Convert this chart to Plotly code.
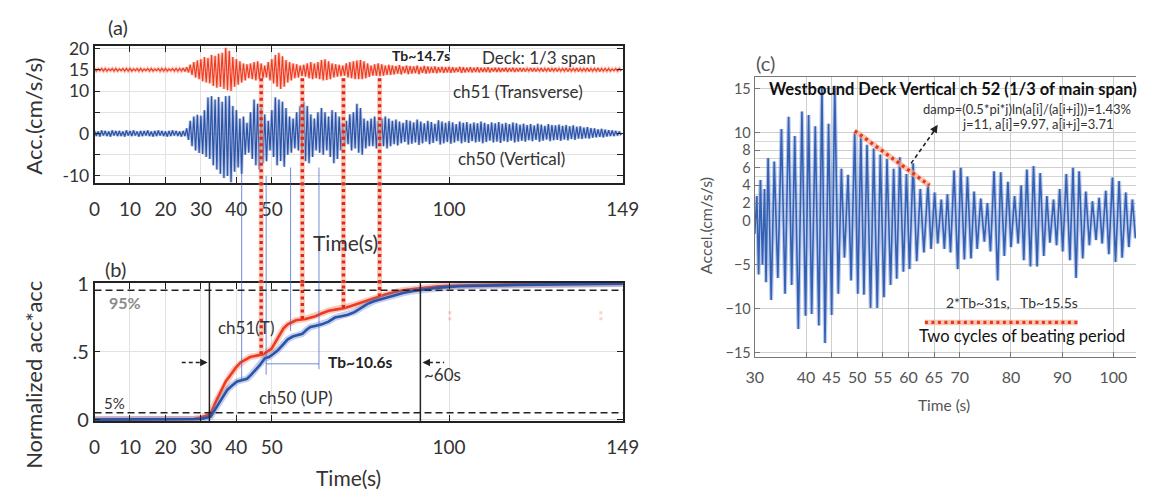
import numpy as np
import plotly.graph_objects as go

W, H = 1153, 501
FONT = "Lato"

# ---------------- (a) deck accelerations: per-second envelope extremes ----------------
# positive extremes at t = 0, 1, ..., 148 s ; negative extremes at t + 0.5 s
ch50_hi = [0.6, 0.5, 0.7, 0.6, 0.5, 0.7, 0.6, 0.6, 0.5, 0.7,
           0.6, 0.7, 0.5, 0.6, 0.6, 0.7, 0.5, 0.6, 0.7, 0.6,
           0.5, 0.6, 0.7, 0.6, 0.5, 0.6, 1.2, 3.0, 4.0, 4.4,
           4.2, 5.5, 8.5, 8.8, 8.0, 8.6, 7.5, 8.8, 8.9, 6.5,
           5.5, 3.5, 4.0, 2.5, 5.0, 8.0, 7.0, 6.0, 4.5, 3.0,
           5.5, 8.5, 8.0, 7.5, 6.0, 4.0, 3.5, 5.0, 6.5, 7.5,
           6.5, 4.5, 3.5, 5.0, 6.0, 5.0, 4.0, 5.5, 5.0, 4.0,
           2.5, 3.0, 4.5, 5.0, 7.0, 6.0, 3.5, 3.0, 3.5, 4.0,
           3.0, 3.5, 4.0, 3.5, 3.0, 3.3, 2.8, 2.5, 3.2, 3.0,
           2.6, 3.3, 2.8, 2.4, 3.0, 2.7, 2.3, 3.1, 2.8, 2.5,
           2.9, 2.6, 2.2, 2.8, 2.5, 2.7, 2.3, 2.6, 2.4, 2.8,
           2.5, 2.2, 2.6, 2.4, 2.7, 2.3, 2.5, 2.2, 2.6, 2.4,
           2.1, 2.3, 2.0, 2.2, 1.9, 2.3, 2.1, 1.8, 2.2, 2.0,
           1.9, 2.1, 1.8, 2.0, 1.7, 1.9, 1.6, 1.7, 1.4, 1.5,
           1.3, 1.2, 1.0, 1.1, 0.9, 0.8, 0.7, 0.6, 0.5]
ch50_lo = [-0.6, -0.7, -0.5, -0.6, -0.7, -0.5, -0.6, -0.6, -0.7, -0.5,
           -0.6, -0.5, -0.7, -0.6, -0.5, -0.6, -0.7, -0.6, -0.5, -0.6,
           -0.7, -0.6, -0.5, -0.6, -0.7, -0.6, -1.5, -3.0, -4.0, -4.6,
           -4.8, -5.5, -6.0, -7.5, -8.5, -9.5, -10.5, -10.0, -11.5, -9.0,
           -8.0, -9.5, -5.0, -4.5, -6.0, -7.5, -8.5, -7.0, -6.5, -4.0,
           -5.5, -7.5, -6.5, -7.8, -5.0, -4.5, -3.5, -4.0, -5.0, -6.5,
           -7.0, -5.5, -4.0, -4.5, -5.0, -4.0, -5.5, -7.0, -6.0, -4.0,
           -3.0, -2.5, -4.0, -3.5, -4.5, -5.0, -3.5, -3.0, -3.0, -3.5,
           -2.5, -3.0, -3.5, -3.0, -2.5, -2.8, -2.3, -2.0, -2.6, -2.4,
           -2.1, -2.7, -2.3, -1.9, -2.5, -2.2, -1.8, -2.6, -2.3, -2.0,
           -2.4, -2.1, -1.8, -2.3, -2.0, -2.2, -1.8, -2.1, -1.9, -2.3,
           -2.0, -1.7, -2.1, -1.9, -2.2, -1.8, -2.0, -1.7, -2.1, -1.9,
           -1.7, -1.9, -1.6, -1.8, -1.5, -1.9, -1.7, -1.4, -1.8, -1.6,
           -1.5, -1.7, -1.4, -1.6, -1.3, -1.5, -1.2, -1.3, -1.1, -1.2,
           -1.0, -0.9, -0.8, -0.9, -0.7, -0.6, -0.6, -0.5, -0.4]
# ch51 is plotted with a +15 offset
ch51_hi = [15.3, 15.2, 15.3, 15.3, 15.2, 15.3, 15.3, 15.2, 15.3, 15.3,
           15.3, 15.2, 15.3, 15.3, 15.2, 15.3, 15.3, 15.2, 15.3, 15.3,
           15.3, 15.2, 15.3, 15.3, 15.3, 15.4, 15.6, 16.2, 16.8, 17.2,
           17.5, 18.0, 17.8, 18.5, 18.3, 18.8, 19.0, 20.2, 19.5, 18.0,
           17.5, 17.0, 16.5, 16.3, 16.5, 16.8, 17.0, 16.5, 16.0, 16.8,
           17.5, 18.5, 19.0, 18.2, 17.3, 16.8, 16.5, 16.3, 16.0, 16.2,
           16.5, 16.8, 16.5, 16.8, 17.3, 17.5, 17.0, 16.5, 16.3, 16.2,
           16.0, 16.5, 16.8, 17.0, 17.2, 17.3, 17.0, 16.5, 16.0, 16.3,
           16.5, 16.3, 16.0, 16.2, 16.0, 15.9, 16.1, 15.8, 16.0, 15.9,
           15.8, 16.0, 15.7, 15.9, 15.8, 15.7, 15.8, 15.6, 15.7, 15.6,
           15.7, 15.6, 15.5, 15.7, 15.6, 15.5, 15.6, 15.5, 15.6, 15.5,
           15.5, 15.6, 15.4, 15.5, 15.5, 15.4, 15.5, 15.4, 15.5, 15.4,
           15.4, 15.4, 15.3, 15.4, 15.4, 15.3, 15.4, 15.3, 15.4, 15.3,
           15.4, 15.3, 15.3, 15.4, 15.3, 15.3, 15.4, 15.3, 15.3, 15.4,
           15.3, 15.3, 15.4, 15.3, 15.3, 15.3, 15.2, 15.3, 15.3]
ch51_lo = [14.7, 14.8, 14.7, 14.7, 14.8, 14.7, 14.7, 14.8, 14.7, 14.7,
           14.7, 14.8, 14.7, 14.7, 14.8, 14.7, 14.7, 14.8, 14.7, 14.7,
           14.7, 14.8, 14.7, 14.7, 14.7, 14.6, 14.4, 13.8, 13.2, 12.8,
           12.3, 12.0, 11.8, 11.2, 10.8, 11.0, 10.5, 10.2, 10.0, 11.0,
           11.5, 12.0, 12.5, 13.0, 12.8, 12.5, 12.8, 13.0, 13.2, 12.5,
           11.8, 11.0, 10.5, 11.0, 12.0, 12.5, 13.0, 13.2, 13.5, 13.4,
           13.0, 12.8, 13.0, 12.8, 12.5, 12.6, 12.8, 13.2, 13.4, 13.5,
           13.6, 13.2, 13.0, 12.8, 12.8, 12.8, 13.0, 13.3, 13.6, 13.6,
           13.5, 13.6, 13.8, 13.8, 13.9, 14.1, 13.9, 14.2, 14.0, 14.1,
           14.2, 14.0, 14.3, 14.1, 14.2, 14.3, 14.2, 14.4, 14.3, 14.4,
           14.3, 14.4, 14.5, 14.3, 14.4, 14.5, 14.4, 14.5, 14.4, 14.5,
           14.5, 14.4, 14.6, 14.5, 14.5, 14.6, 14.5, 14.6, 14.5, 14.6,
           14.6, 14.6, 14.7, 14.6, 14.6, 14.7, 14.6, 14.7, 14.6, 14.7,
           14.6, 14.7, 14.7, 14.6, 14.7, 14.7, 14.6, 14.7, 14.7, 14.6,
           14.7, 14.7, 14.6, 14.7, 14.7, 14.7, 14.8, 14.7, 14.7]

# ---------------- (b) normalized cumulative acc*acc ----------------
cum51_t = [0, 26, 28, 30, 32.7, 34, 35.6, 37, 38.4, 39.8, 41.2, 42.5, 43.9, 45.7, 47.6,
           49.9, 51, 52.2, 53.3, 54.5, 56.8, 59.5, 62.3, 64, 66, 68.3, 70.6, 73, 75.2,
           77.5, 79.8, 82, 84.4, 87, 89.9, 93, 97.2, 103, 110, 120, 135, 149]
cum51_v = [0, 0, 0.005, 0.015, 0.04, 0.12, 0.2, 0.28, 0.33, 0.38, 0.42, 0.44, 0.46, 0.47, 0.48,
           0.52, 0.57, 0.62, 0.67, 0.70, 0.73, 0.74, 0.76, 0.78, 0.80, 0.81, 0.82, 0.84, 0.86,
           0.88, 0.90, 0.92, 0.935, 0.95, 0.96, 0.97, 0.98, 0.985, 0.99, 0.995, 0.997, 1.0]
cum50_t = [0, 28, 30, 32.7, 34.7, 36, 37.5, 38.8, 40.2, 41.5, 43, 44.2, 45.3, 46.6, 48,
           49.2, 50.3, 51.7, 53.1, 54.5, 55.9, 57.2, 58.6, 59.8, 60.9, 62.5, 64.1, 66,
           67.8, 69.6, 71.5, 73.3, 75.2, 77, 78.8, 81.5, 84.4, 87, 89.9, 93, 97.2, 103,
           110, 120, 135, 149]
cum50_v = [0, 0, 0.005, 0.02, 0.10, 0.16, 0.22, 0.25, 0.28, 0.29, 0.30, 0.33, 0.36, 0.40, 0.45,
           0.46, 0.48, 0.51, 0.55, 0.59, 0.61, 0.62, 0.63, 0.66, 0.68, 0.69, 0.70, 0.72,
           0.75, 0.76, 0.77, 0.79, 0.82, 0.85, 0.87, 0.89, 0.915, 0.93, 0.945, 0.955, 0.97,
           0.98, 0.985, 0.99, 0.995, 0.998]
window_t = [32.4, 91.9]          # 5 % and 95 % energy crossings
beat_red_t = [47.0, 58.6, 70.2, 80.4]
beat_red_end = [0.48, 0.74, 0.82, 0.905]
beat_blue_t = [41.5, 48.4, 55.3, 63.3]
beat_blue_top = [-7.5, -10.0, -8.0, -8.0]
beat_blue_end = [0.29, 0.33, 0.65, 0.37]

# ---------------- (c) ch52 vertical, oscillation extremes ----------------
ch52_pk_t = [30.4, 31.1, 31.9, 32.6, 33.8, 35.2, 36.6, 37.8, 39.2, 40.5, 41.8, 43.1, 44.4,
             45.6, 46.9, 48.2, 49.5, 50.7, 51.9, 53.2, 54.5, 55.8, 57.1, 58.3, 59.6, 60.9,
             62.3, 63.8, 65.1, 66.4, 67.6, 68.9, 70.2, 71.5, 72.8, 74.1, 75.4, 76.7, 78.0,
             79.4, 80.7, 82.0, 83.1, 84.4, 85.7, 87.0, 88.3, 89.5, 90.8, 92.1, 93.3, 94.6,
             95.9, 97.2, 98.5, 99.8, 101.1, 102.4, 103.7]
ch52_pk_v = [2.8, 4.6, 3.6, 7.1, 6.7, 10.4, 11.8, 9.6, 12.4, 12.0, 10.7, 15.2, 11.0,
             15.3, 5.9, 5.2, 10.0, 9.5, 8.6, 8.2, 7.5, 7.0, 5.9, 7.2, 5.3, 6.5,
             3.6, 4.2, 3.2, 2.4, 3.0, 5.7, 6.0, 5.0, 3.3, 2.5, 2.0, 5.6, 5.5,
             4.4, 2.8, 4.0, 5.8, 6.2, 5.4, 2.8, 2.4, 3.6, 5.3, 6.0, 5.6, 3.3,
             2.2, 2.6, 3.4, 4.9, 4.5, 3.2, 2.4]
ch52_tr_t = [30.0, 30.75, 31.5, 32.2, 33.2, 34.5, 35.9, 37.2, 38.5, 39.9, 41.1, 42.5, 43.7,
             45.0, 46.3, 47.5, 48.8, 50.1, 51.3, 52.6, 53.9, 55.2, 56.5, 57.7, 59.0, 60.2,
             61.6, 63.0, 64.4, 65.7, 67.0, 68.2, 69.6, 70.9, 72.2, 73.4, 74.8, 76.0, 77.4,
             78.7, 80.0, 81.4, 82.5, 83.8, 85.1, 86.4, 87.6, 88.9, 90.1, 91.5, 92.7, 94.0,
             95.3, 96.6, 97.8, 99.1, 100.4, 101.7, 103.0, 104.3]
ch52_tr_v = [-1.5, -6.1, -5.0, -7.0, -9.0, -6.5, -8.3, -7.3, -12.3, -10.8, -10.6, -11.9, -13.9,
             -10.7, -8.3, -4.2, -6.8, -8.3, -8.4, -9.9, -9.9, -8.7, -7.3, -6.6, -5.8, -5.5,
             -4.6, -3.6, -3.2, -2.6, -3.2, -3.6, -5.5, -4.4, -4.3, -3.2, -2.4, -3.5, -6.8,
             -4.0, -3.0, -2.6, -4.5, -5.2, -5.2, -4.0, -2.5, -2.8, -3.5, -4.5, -6.5, -4.3,
             -2.8, -2.2, -2.6, -3.8, -4.7, -4.2, -3.0, -2.0]
decay_t = [49.5, 64.1]           # a[i] = 9.97 ... a[i+j] = 3.71
decay_v = [10.2, 4.0]
beat_span_t = [63.2, 93.0]
beat_span_v = -11.55

# ---------------- geometry (pixel boxes of the three panels) ----------------
def px_x(p):
    return p / W


def px_y(p):
    return 1 - p / H


A_BOX = (87.5, 628, 35, 178)
B_BOX = (87.5, 628, 282.5, 427)
C_BOX = (763, 1153, 67, 360)
A_YR = [-11.7, 20.5]
B_YR = [-0.012, 1.003]
C_YR = [-15.5, 16.3]
C_XR = [30, 104.4]

BLUE = "#2B54A8"
RED = "#EE3A1E"
INK = "#222222"


def zigzag(hi, lo):
    n = len(hi)
    t = np.empty(2 * n)
    v = np.empty(2 * n)
    t[0::2] = np.arange(n)
    t[1::2] = np.arange(n) + 0.5
    v[0::2] = hi
    v[1::2] = lo
    return t, v


fig = go.Figure()

t51, v51 = zigzag(ch51_hi, ch51_lo)
t50, v50 = zigzag(ch50_hi, ch50_lo)
fig.add_trace(go.Scatter(x=t51, y=v51, mode="lines", xaxis="x", yaxis="y",
                         line=dict(color="rgba(240,90,60,0.35)", width=3.2), hoverinfo="skip"))
fig.add_trace(go.Scatter(x=t51, y=v51, mode="lines", xaxis="x", yaxis="y",
                         line=dict(color=RED, width=1.1)))
fig.add_trace(go.Scatter(x=t50, y=v50, mode="lines", xaxis="x", yaxis="y",
                         line=dict(color="rgba(60,95,180,0.35)", width=3.0), hoverinfo="skip"))
fig.add_trace(go.Scatter(x=t50, y=v50, mode="lines", xaxis="x", yaxis="y",
                         line=dict(color=BLUE, width=1.2)))

# cumulative energy curves with a soft halo
for tt, vv, col, halo in [(cum51_t, cum51_v, RED, "rgba(240,110,80,0.35)"),
                          (cum50_t, cum50_v, BLUE, "rgba(90,120,200,0.35)")]:
    fig.add_trace(go.Scatter(x=tt, y=vv, mode="lines", xaxis="x2", yaxis="y2",
                             line=dict(color=halo, width=6.5), hoverinfo="skip"))
    fig.add_trace(go.Scatter(x=tt, y=vv, mode="lines", xaxis="x2", yaxis="y2",
                             line=dict(color=col, width=2.6)))

# ch52 waveform: merge peaks and troughs in time order
pts = sorted(zip(ch52_pk_t + ch52_tr_t, ch52_pk_v + ch52_tr_v))
fig.add_trace(go.Scatter(x=[p[0] for p in pts], y=[p[1] for p in pts], mode="lines",
                         xaxis="x3", yaxis="y3", line=dict(color="rgba(70,110,200,0.35)", width=4),
                         hoverinfo="skip"))
fig.add_trace(go.Scatter(x=[p[0] for p in pts], y=[p[1] for p in pts], mode="lines",
                         xaxis="x3", yaxis="y3", line=dict(color="#3461B3", width=1.6)))

shapes = []

# beating markers crossing from (a) into (b)
gap_lo, gap_hi = px_y(B_BOX[2]), px_y(A_BOX[3])


def crossing(t, top_a, end_b, line):
    return [
        dict(type="line", xref="x", yref="y", x0=t, x1=t, y0=top_a, y1=A_YR[0], line=line),
        dict(type="line", xref="x", yref="paper", x0=t, x1=t, y0=gap_lo, y1=gap_hi, line=line),
        dict(type="line", xref="x2", yref="y2", x0=t, x1=t, y0=end_b, y1=B_YR[1], line=line),
    ]


for t, top, end in zip(beat_blue_t, beat_blue_top, beat_blue_end):
    shapes += crossing(t, top, end, dict(color="rgba(70,100,200,0.75)", width=1))
shapes.append(dict(type="line", xref="x2", yref="y2", x0=beat_blue_t[1], x1=beat_blue_t[3],
                   y0=0.41, y1=0.41, line=dict(color="rgba(70,100,200,0.75)", width=1)))
for t, end in zip(beat_red_t, beat_red_end):
    shapes += crossing(t, 13, end, dict(color="rgba(248,170,150,0.6)", width=5))
    shapes += crossing(t, 13, end, dict(color="#DC2A14", width=3.4, dash="3px,3.5px"))

# faint marks in (b)
for t in [100.2, 142.8]:
    shapes.append(dict(type="line", xref="x2", yref="y2", x0=t, x1=t, y0=0.73, y1=0.81,
                       line=dict(color="rgba(235,80,60,0.25)", width=3, dash="dot")))

# 5 % / 95 % levels and energy window
for lvl in [0.05, 0.95]:
    shapes.append(dict(type="line", xref="x2 domain", yref="y2", x0=0, x1=1, y0=lvl, y1=lvl,
                       line=dict(color=INK, width=1.6, dash="7px,4px")))
for t in window_t:
    shapes.append(dict(type="line", xref="x2", yref="y2 domain", x0=t, x1=t, y0=0, y1=1,
                       line=dict(color=INK, width=1.5)))
shapes.append(dict(type="line", xref="x2", yref="y2", x0=24.6, x1=30.0, y0=0.42, y1=0.42,
                   line=dict(color=INK, width=1.5, dash="4px,3px")))
shapes.append(dict(type="line", xref="x2", yref="y2", x0=94.3, x1=98.6, y0=0.42, y1=0.42,
                   line=dict(color=INK, width=1.5, dash="4px,3px")))

# damping line and beating span in (c)
for ln in [dict(color="rgba(250,175,150,0.7)", width=5.5),
           dict(color="#E23A1C", width=3.4, dash="3px,3.5px")]:
    shapes.append(dict(type="line", xref="x3", yref="y3", x0=decay_t[0], x1=decay_t[1],
                       y0=decay_v[0], y1=decay_v[1], line=ln))
    shapes.append(dict(type="line", xref="x3", yref="y3", x0=beat_span_t[0], x1=beat_span_t[1],
                       y0=beat_span_v, y1=beat_span_v, line=ln))
shapes.append(dict(type="line", xref="x3", yref="y3", x0=60.5, x1=64.9, y0=6.5, y1=10.1,
                   line=dict(color=INK, width=1.6, dash="4px,3px")))

ann = []


def txt(x, y, s, size, xref, yref, color=INK, bold=False, **kw):
    d = dict(x=x, y=y, xref=xref, yref=yref, showarrow=False,
             text=f"<b>{s}</b>" if bold else s, xanchor="center", yanchor="middle",
             font=dict(family=FONT, size=size, color=color))
    d.update(kw)
    ann.append(d)


# arrow heads
for (x, ax, xr, yr, y) in [(31.9, 29.5, "x2", "y2", 0.42), (92.5, 94.8, "x2", "y2", 0.42)]:
    ann.append(dict(x=x, y=y, ax=ax, ay=y, xref=xr, yref=yr, axref=xr, ayref=yr, text="",
                    showarrow=True, arrowhead=2, arrowsize=1, arrowwidth=1.5, arrowcolor=INK))
ann.append(dict(x=65.7, y=10.9, ax=64.6, ay=9.9, xref="x3", yref="y3", axref="x3", ayref="y3",
                text="", showarrow=True, arrowhead=2, arrowsize=1, arrowwidth=1.6, arrowcolor=INK))

# (a) texts
txt(92, 18.4, "Tb~14.7s", 14, "x", "y", bold=True)
txt(125.3, 17.9, "Deck: 1/3 span", 17, "x", "y", color="#333")
txt(119.5, 10.0, "ch51 (Transverse)", 17, "x", "y", color="#333")
txt(117.7, -5.8, "ch50 (Vertical)", 17, "x", "y", color="#333")
# (b) texts
txt(8.7, 0.86, "95%", 16, "x2", "y2", color="#8a8a8a", bold=True)
txt(5.7, 0.12, "5%", 15, "x2", "y2", color="#333")
txt(42.6, 0.68, "ch51(T)", 17, "x2", "y2", color="#333")
txt(56.6, 0.16, "ch50 (UP)", 17, "x2", "y2", color="#333")
txt(74.9, 0.42, "Tb~10.6s", 15.5, "x2", "y2", bold=True)
txt(98.0, 0.33, "~60s", 17, "x2", "y2", color="#333")
# (c) texts
txt(px_x(775), px_y(80), "Westbound Deck Vertical ch 52 (1/3 of main span)", 16.5, "paper", "paper",
    color="#111", bold=True, xanchor="left")
txt(px_x(1150), px_y(100), "damp=(0.5*pi*j)ln(a[i]/(a[i+j]))=1.43%", 13, "paper", "paper",
    color="#333", xanchor="right")
txt(px_x(1133), px_y(116), "j=11, a[i]=9.97, a[i+j]=3.71", 13, "paper", "paper",
    color="#333", xanchor="right")
txt(px_x(1026), px_y(303), "2*Tb~31s,&nbsp;&nbsp;&nbsp;Tb~15.5s", 14, "paper", "paper", color="#333")
txt(px_x(1036), px_y(338), "Two cycles of beating period", 16.5, "paper", "paper", color="#111")

# panel labels and axis titles
txt(px_x(112), px_y(15), "(a)", 20, "paper", "paper", color="#333")
txt(px_x(109), px_y(268), "(b)", 20, "paper", "paper", color="#333")
txt(px_x(774), px_y(52), "(c)", 20, "paper", "paper", color="#555")
txt(px_x(344), px_y(240), "Time(s)", 21, "paper", "paper", color="#333")
txt(px_x(347), px_y(486), "Time(s)", 21, "paper", "paper", color="#333")
txt(px_x(957), px_y(410), "Time (s)", 15.5, "paper", "paper", color="#555")
txt(px_x(25), px_y(108), "Acc.(cm/s/s)", 22, "paper", "paper", color="#333", textangle=-90)
txt(px_x(25), px_y(378), "Normalized acc*acc", 22, "paper", "paper", color="#333", textangle=-90)
txt(px_x(712), px_y(222), "Accel.(cm/s/s)", 16, "paper", "paper", color="#555", textangle=-90)

ab_x = dict(range=[0, 149], tickvals=[0, 10, 20, 30, 40, 50, 100, 149],
            ticks="inside", ticklen=6, tickwidth=1.2, tickcolor=INK,
            showline=True, linecolor=INK, linewidth=1.5, mirror="ticks",
            showgrid=True, gridcolor="#e2e2e2", zeroline=False,
            tickfont=dict(family=FONT, size=19, color="#333"), ticklabelstandoff=8)

fig.update_layout(
    width=W, height=H, margin=dict(l=0, r=0, t=0, b=0),
    paper_bgcolor="white", plot_bgcolor="white", showlegend=False,
    xaxis=dict(domain=[px_x(A_BOX[0]), px_x(A_BOX[1])], anchor="y", **ab_x),
    yaxis=dict(domain=[px_y(A_BOX[3]), px_y(A_BOX[2])], anchor="x", range=A_YR,
               tickvals=[-10, -5, 0, 5, 10, 15, 20],
               ticktext=["-10", "", "0", "", "10", "15", "20"],
               ticks="inside", ticklen=6, tickwidth=1.2, tickcolor=INK,
               showline=True, linecolor=INK, linewidth=1.5, mirror="ticks",
               showgrid=True, gridcolor="#e2e2e2", zeroline=False,
               tickfont=dict(family=FONT, size=17.5, color="#333")),
    xaxis2=dict(domain=[px_x(B_BOX[0]), px_x(B_BOX[1])], anchor="y2", **ab_x),
    yaxis2=dict(domain=[px_y(B_BOX[3]), px_y(B_BOX[2])], anchor="x2", range=B_YR,
                tickvals=[0, 0.5, 1], ticktext=["0", ".5", "1"],
                ticks="inside", ticklen=6, tickwidth=1.2, tickcolor=INK,
                showline=True, linecolor=INK, linewidth=1.5, mirror="ticks",
                showgrid=True, gridcolor="#e2e2e2", zeroline=False,
                tickfont=dict(family=FONT, size=20, color="#333")),
    xaxis3=dict(domain=[px_x(C_BOX[0]), px_x(C_BOX[1])], anchor="y3", range=C_XR,
                tickvals=[30, 40, 45, 50, 55, 60, 65, 70, 80, 90, 100],
                ticks="inside", ticklen=5, tickcolor="#777",
                showline=True, linecolor="#777", linewidth=1.2, mirror=True,
                showgrid=True, gridcolor="#cfcfcf", zeroline=False,
                tickfont=dict(family=FONT, size=16, color="#555"), ticklabelstandoff=6),
    yaxis3=dict(domain=[px_y(C_BOX[3]), px_y(C_BOX[2])], anchor="x3", range=C_YR,
                tickvals=[-15, -10, -5, 0, 2, 4, 6, 8, 10, 15],
                ticks="inside", ticklen=5, tickcolor="#777",
                showline=True, linecolor="#777", linewidth=1.2,
                showgrid=True, gridcolor="#cfcfcf", zeroline=False,
                minor=dict(tickmode="array", tickvals=[1, 3, 5, 7, 9], showgrid=True,
                           gridcolor="#d6d6d6", ticks=""),
                tickfont=dict(family=FONT, size=14.5, color="#555")),
    shapes=shapes, annotations=ann,
)

fig.write_html("out.html")
